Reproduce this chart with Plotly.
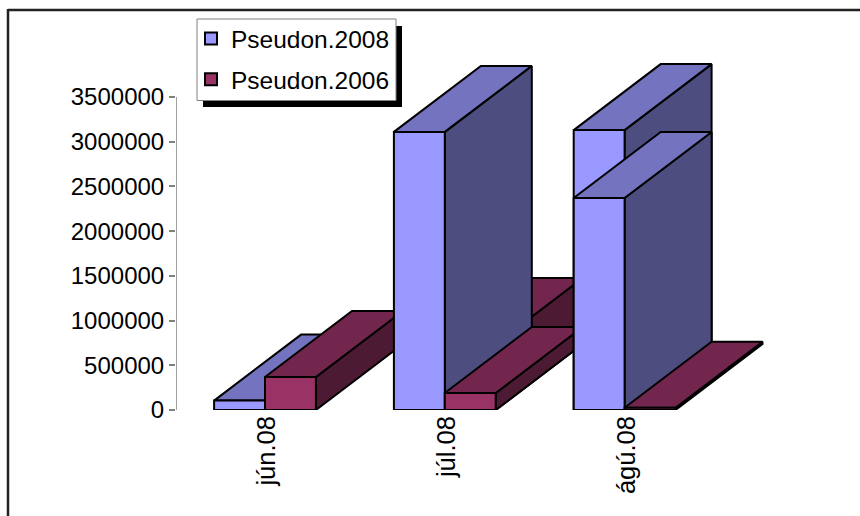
import plotly.graph_objects as go

categories = ["jún.08", "júl.08", "ágú.08"]
series_2008 = [105000, 3110000, 2370000]
series_2008_rear = [None, None, 3130000]
series_2006 = [369000, 190000, 25000]
series_2006_rear = [None, 738000, None]
tick_values = [0, 500000, 1000000, 1500000, 2000000, 2500000, 3000000, 3500000]
name_2008 = "Pseudon.2008"
name_2006 = "Pseudon.2006"

PITCH = 179.8
BAR_W = 50.9 / PITCH
DEPTH_X = 87 / PITCH
DEPTH_Y = 738000
X_START = -0.495
FONT = "Liberation Sans"
BLUE = ("#9999FF", "#7373BF", "#4D4D80")
PLUM = ("#993366", "#73264D", "#4D1A33")

fig = go.Figure()


def poly(xs, ys, color):
    fig.add_trace(go.Scatter(
        x=xs + xs[:1], y=ys + ys[:1], mode="lines", fill="toself", fillcolor=color,
        line=dict(color="#000000", width=2), hoverinfo="skip", showlegend=False,
        cliponaxis=False))


def bar(x0, v, colors):
    x1 = x0 + BAR_W
    poly([x1, x1 + DEPTH_X, x1 + DEPTH_X, x1], [0, DEPTH_Y, v + DEPTH_Y, v], colors[2])
    poly([x0, x0 + DEPTH_X, x1 + DEPTH_X, x1], [v, v + DEPTH_Y, v + DEPTH_Y, v], colors[1])
    poly([x0, x1, x1, x0], [0, 0, v, v], colors[0])


for i in range(len(categories)):
    for values, left, colors in [
        (series_2008_rear, -BAR_W, BLUE), (series_2006_rear, 0, PLUM),
        (series_2008, -BAR_W, BLUE), (series_2006, 0, PLUM),
    ]:
        if values[i] is not None:
            bar(i + left, values[i], colors)

fig.add_trace(go.Scatter(x=[X_START, X_START], y=[tick_values[0], tick_values[-1]], mode="lines",
                         line=dict(color="#808080", width=1.5), hoverinfo="skip",
                         showlegend=False, cliponaxis=False))

for name, colors in [(name_2008, BLUE), (name_2006, PLUM)]:
    fig.add_trace(go.Scatter(x=[None], y=[None], mode="markers", name=name, legendgroup=name,
                             marker=dict(symbol="square", size=14, color=colors[0],
                                         line=dict(color="#000000", width=1.5))))

PX0, PX1, PY0, PY1 = 176, 800, 50, 410
fig.update_layout(
    width=860, height=516, autosize=False,
    margin=dict(l=PX0, r=860 - PX1, t=PY0, b=516 - PY1, pad=0),
    paper_bgcolor="#FFFFFF", plot_bgcolor="#FFFFFF",
    font=dict(family=FONT, size=24, color="#000000"),
    xaxis=dict(range=[X_START, X_START + (PX1 - PX0) / PITCH], tickvals=list(range(len(categories))),
               ticktext=categories, tickangle=-90, ticks="", showgrid=False, zeroline=False,
               showline=False, ticklabelposition="outside", ticklabelshift=2,
               tickfont=dict(size=25.5)),
    yaxis=dict(range=[0, (PY1 - PY0) / 313 * 3500000], tickvals=tick_values, tickformat="d",
               ticks="outside", ticklen=6, tickwidth=1.5, tickcolor="#808080", showgrid=False,
               zeroline=False, showline=False, tickfont=dict(size=24)),
    legend=dict(x=(191 - PX0) / (PX1 - PX0), y=1 - (16 - PY0) / (PY1 - PY0), xanchor="left",
                yanchor="top", bgcolor="rgba(0,0,0,0)", borderwidth=0, tracegroupgap=6,
                font=dict(size=24.5), itemsizing="constant"),
    shapes=[
        dict(type="rect", xref="paper", yref="paper", layer="above",
             x0=(203 - PX0) / (PX1 - PX0), x1=(402 - PX0) / (PX1 - PX0),
             y0=1 - (107 - PY0) / (PY1 - PY0), y1=1 - (26 - PY0) / (PY1 - PY0),
             fillcolor="#000000", line=dict(width=0)),
        dict(type="rect", xref="paper", yref="paper", layer="above",
             x0=(197 - PX0) / (PX1 - PX0), x1=(396 - PX0) / (PX1 - PX0),
             y0=1 - (100.5 - PY0) / (PY1 - PY0), y1=1 - (19 - PY0) / (PY1 - PY0),
             fillcolor="#FFFFFF", line=dict(color="#808080", width=1)),
        dict(type="line", xref="paper", yref="paper", layer="above",
             x0=(8 - PX0) / (PX1 - PX0), x1=(8 - PX0) / (PX1 - PX0),
             y0=1 - (516 - PY0) / (PY1 - PY0), y1=1 - (9 - PY0) / (PY1 - PY0),
             line=dict(color="#222222", width=2.5)),
        dict(type="line", xref="paper", yref="paper", layer="above",
             x0=(8 - PX0) / (PX1 - PX0), x1=(860 - PX0) / (PX1 - PX0),
             y0=1 - (10 - PY0) / (PY1 - PY0), y1=1 - (10 - PY0) / (PY1 - PY0),
             line=dict(color="#222222", width=2.5)),
    ],
)

fig.write_html("out.html", config=dict(displayModeBar=False),
               post_script="document.body.style.margin='0';")
